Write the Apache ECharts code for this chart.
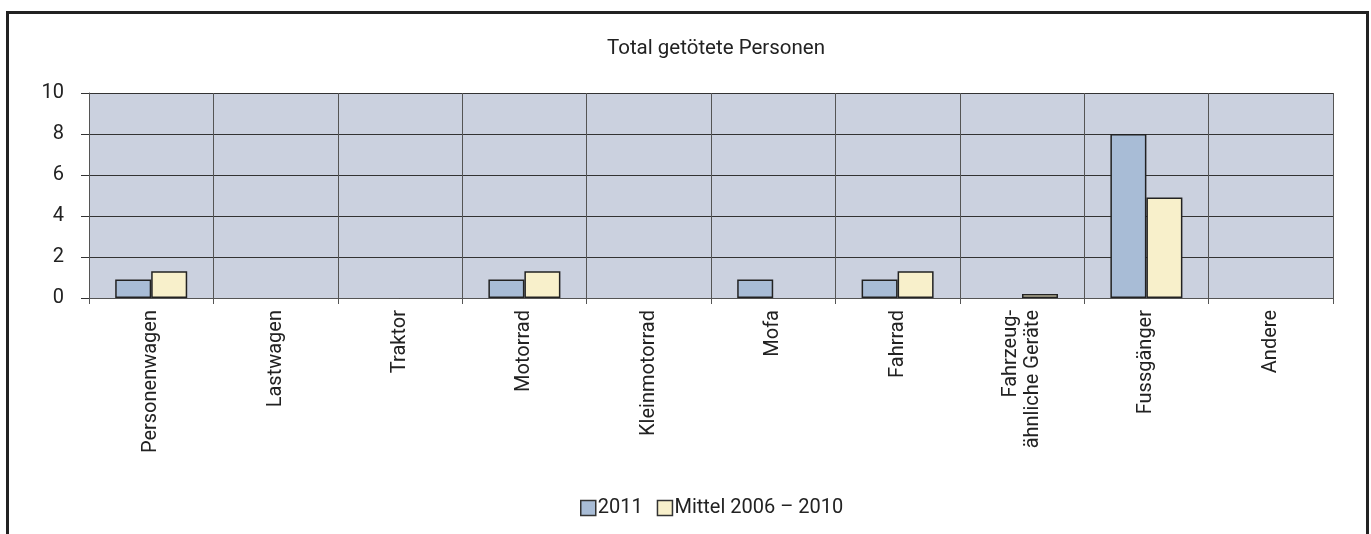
<!DOCTYPE html>
<html>
<head>
<meta charset="utf-8">
<script src="https://cdn.jsdelivr.net/npm/echarts@6/dist/echarts.min.js"></script>
<style>
  html, body { margin: 0; padding: 0; background: #fff; }
  #chart { width: 1371px; height: 534px; }
</style>
</head>
<body>
<div id="chart"></div>
<script>
    // Daten
    var categories = ['Personenwagen', 'Lastwagen', 'Traktor', 'Motorrad', 'Kleinmotorrad',
        'Mofa', 'Fahrrad', 'Fahrzeug-\nähnliche Geräte', 'Fussgänger', 'Andere'];
    var werte2011 = [0.9, 0, 0, 0.9, 0, 0.9, 0.9, 0, 8, 0];
    var werteMittel = [1.3, 0, 0, 1.3, 0, 0, 1.3, 0.2, 4.9, 0];
    var yTicks = [0, 2, 4, 6, 8, 10];

    var schrift = 'Roboto, sans-serif';

    // 0 = kein Balken
    function ohneNull(arr) {
        return arr.map(function (v) { return v === 0 ? '-' : v; });
    }

    var option = {
        animation: false,
        title: {
            text: 'Total getötete Personen',
            left: 711,
            top: 33,
            textAlign: 'center',
            textStyle: { color: '#222', fontWeight: 'normal', fontSize: 20.5, fontFamily: schrift }
        },
        legend: {
            left: 580,
            top: 498,
            padding: 0,
            icon: 'rect',
            itemWidth: 15,
            itemHeight: 15,
            itemGap: 14,
            itemStyle: { borderColor: '#333', borderWidth: 1.5 },
            textStyle: { color: '#222', fontSize: 20, fontFamily: schrift, padding: [0, 0, 0, -3] },
            data: ['2011', 'Mittel 2006 – 2010']
        },
        grid: {
            left: 89,
            right: 38,
            top: 93,
            bottom: 236,
            show: true,
            backgroundColor: '#cbd1df',
            borderWidth: 0
        },
        xAxis: {
            type: 'category',
            data: categories,
            axisLine: { show: true, lineStyle: { color: '#555', width: 1 } },
            axisTick: { show: true, length: 6, lineStyle: { color: '#555' } },
            splitLine: { show: true, lineStyle: { color: '#555', width: 1 } },
            axisLabel: {
                rotate: 90,
                interval: 0,
                margin: 12,
                color: '#222',
                fontSize: 20,
                lineHeight: 22,
                fontFamily: schrift
            }
        },
        yAxis: {
            type: 'value',
            min: yTicks[0],
            max: yTicks[yTicks.length - 1],
            interval: 2,
            axisLine: { show: true, lineStyle: { color: '#555', width: 1 } },
            axisTick: { show: true, length: 8, lineStyle: { color: '#333' } },
            splitLine: { show: true, lineStyle: { color: '#333', width: 1 } },
            axisLabel: { margin: 25, color: '#222', fontSize: 20, fontFamily: schrift }
        },
        graphic: [{
            type: 'rect',
            shape: { x: 7.5, y: 12.5, width: 1360, height: 600 },
            style: { fill: 'none', stroke: '#222', lineWidth: 3 },
            silent: true
        }],
        series: [
            {
                name: '2011',
                type: 'bar',
                data: ohneNull(werte2011),
                barWidth: 36,
                barGap: '0%',
                itemStyle: { color: '#a8bcd6', borderColor: '#222', borderWidth: 1.5 }
            },
            {
                name: 'Mittel 2006 – 2010',
                type: 'bar',
                data: ohneNull(werteMittel),
                barWidth: 36,
                itemStyle: { color: '#f8f0cb', borderColor: '#222', borderWidth: 1.5 }
            }
        ]
    };

    var chart = echarts.init(document.getElementById('chart'));
    chart.setOption(option);
</script>
</body>
</html>
